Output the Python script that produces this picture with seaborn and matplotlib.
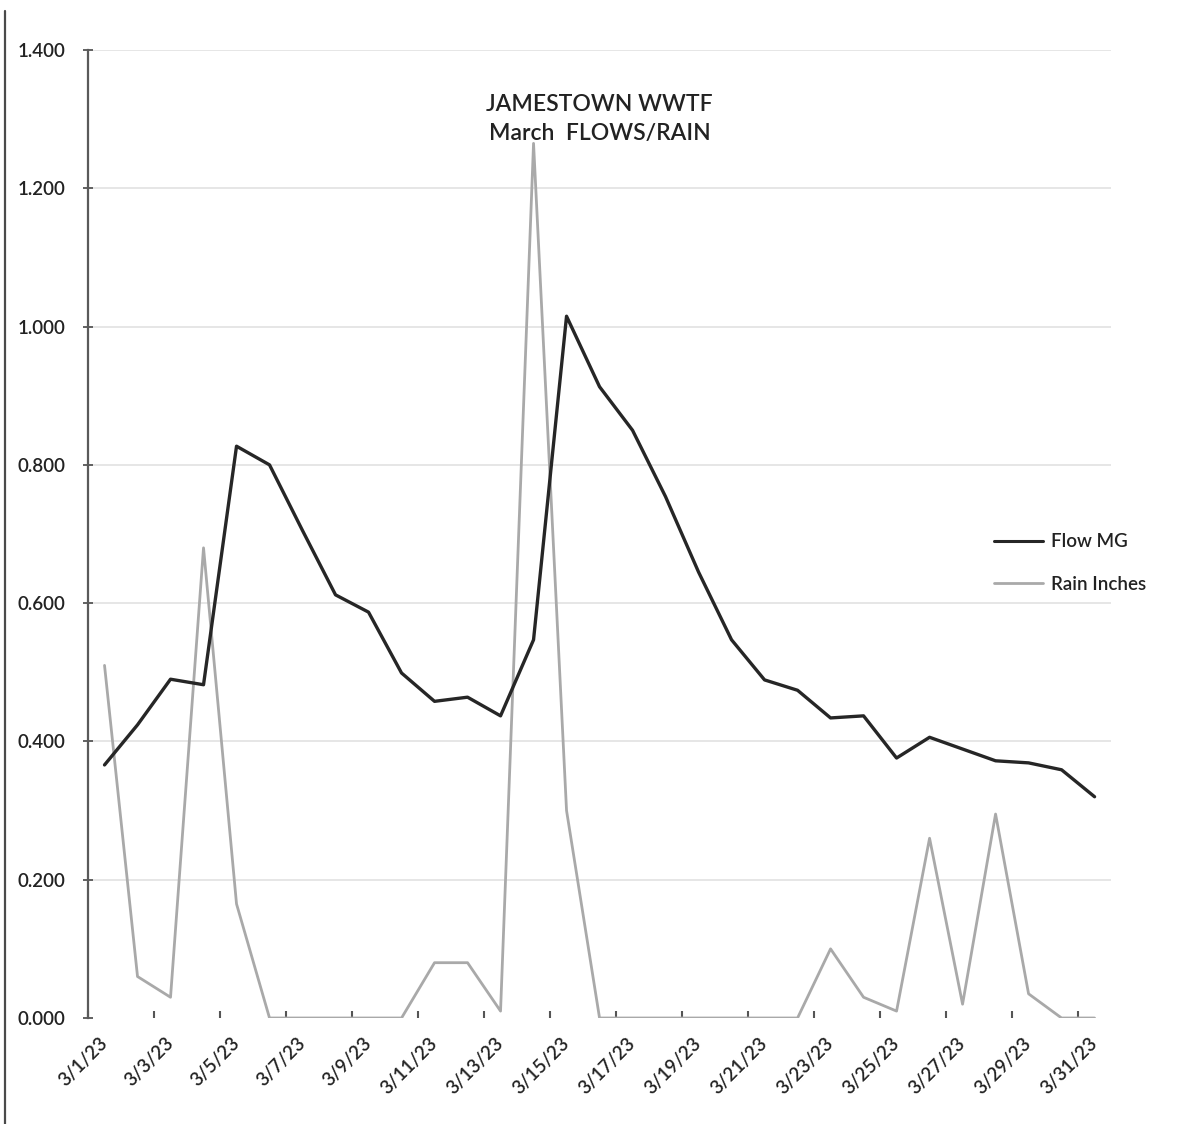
import matplotlib
matplotlib.use("Agg")
import matplotlib.pyplot as plt
from matplotlib.lines import Line2D
import pandas as pd
import seaborn as sns

# Daily readings for March 2023
dates = ["3/1/23", "3/2/23", "3/3/23", "3/4/23", "3/5/23", "3/6/23", "3/7/23", "3/8/23",
         "3/9/23", "3/10/23", "3/11/23", "3/12/23", "3/13/23", "3/14/23", "3/15/23",
         "3/16/23", "3/17/23", "3/18/23", "3/19/23", "3/20/23", "3/21/23", "3/22/23",
         "3/23/23", "3/24/23", "3/25/23", "3/26/23", "3/27/23", "3/28/23", "3/29/23",
         "3/30/23", "3/31/23"]
flow_mg = [0.366, 0.424, 0.490, 0.482, 0.827, 0.800, 0.705, 0.612, 0.587, 0.499,
           0.458, 0.464, 0.437, 0.547, 1.015, 0.913, 0.850, 0.754, 0.645, 0.547,
           0.489, 0.474, 0.434, 0.437, 0.376, 0.406, 0.389, 0.372, 0.369, 0.359, 0.320]
rain_in = [0.51, 0.06, 0.03, 0.68, 0.165, 0.0, 0.0, 0.0, 0.0, 0.0,
           0.08, 0.08, 0.01, 1.265, 0.30, 0.0, 0.0, 0.0, 0.0, 0.0,
           0.0, 0.0, 0.10, 0.03, 0.01, 0.26, 0.02, 0.295, 0.035, 0.0, 0.0]
series_names = ["Flow MG", "Rain Inches"]
y_ticks = [0.0, 0.2, 0.4, 0.6, 0.8, 1.0, 1.2, 1.4]

pos = list(range(len(dates)))
df = pd.DataFrame({
    "pos": pos * 2,
    "value": flow_mg + rain_in,
    "series": [series_names[0]] * len(pos) + [series_names[1]] * len(pos),
})

sns.set_theme(style="white")
plt.rcParams["font.family"] = ["Lato", "DejaVu Sans"]

FLOW_C = "#262626"
RAIN_C = "#a9a9a9"
TEXT_C = "#222222"

fig = plt.figure(figsize=(11.83, 11.24), dpi=100)
ax = fig.add_axes([0.0744, 0.0943, 0.8648, 0.8612])

sns.lineplot(data=df, x="pos", y="value", hue="series", hue_order=series_names,
             palette={series_names[0]: FLOW_C, series_names[1]: RAIN_C},
             ax=ax, legend=False, estimator=None, sort=False)
for ln, lw in zip(ax.lines, [2.4, 2.0]):
    ln.set_linewidth(lw)
# rain drawn beneath flow
ax.lines[1].set_zorder(2)
ax.lines[0].set_zorder(3)

ax.set_xlim(-0.5, len(dates) - 0.5)
ax.set_ylim(0, 1.4)

ax.set_yticks(y_ticks)
ax.set_yticklabels([f"{v:.3f}" for v in y_ticks], fontsize=13.5, color=TEXT_C,
                   fontweight="semibold")
# light horizontal guides, none along the baseline
for v in y_ticks[1:]:
    ax.axhline(v, color="#e4e4e4", linewidth=1.3, zorder=0)

ax.set_xticks(pos[::2])
ax.set_xticklabels(dates[::2], rotation=45, ha="right", va="center",
                   rotation_mode="anchor", fontsize=13.5, color=TEXT_C,
                   fontweight="semibold")
ax.set_xticks([p - 0.5 for p in pos[::2]], minor=True)
ax.tick_params(axis="x", which="major", length=0, pad=16)
ax.tick_params(axis="x", which="minor", length=5, width=1.5, direction="in",
               color="#555555", bottom=True)
ax.tick_params(axis="y", which="major", length=7, width=1.3, direction="inout",
               color="#555555", pad=13, left=True)

for side in ["top", "right", "bottom"]:
    ax.spines[side].set_visible(False)
ax.spines["left"].set_color("#5a5a5a")
ax.spines["left"].set_linewidth(1.6)
ax.set_xlabel("")
ax.set_ylabel("")

ax.text(0.5, 0.929, "JAMESTOWN WWTF\nMarch  FLOWS/RAIN", transform=ax.transAxes,
        ha="center", va="center", fontsize=16.5, color=TEXT_C, linespacing=1.45,
        fontweight="semibold")

handles = [Line2D([], [], color=FLOW_C, lw=2.2), Line2D([], [], color=RAIN_C, lw=2.0)]
fig.legend(handles, series_names, loc="center left", bbox_to_anchor=(0.826, 0.499),
           frameon=False, handlelength=2.6, handletextpad=0.45,
           labelspacing=1.35, labelcolor=TEXT_C, prop={"weight": "semibold", "size": 13.5})

# scanned page edge on the left
fig.add_artist(Line2D([0.0045, 0.0045], [0.0, 0.99], transform=fig.transFigure,
                      color="#4a4a4a", lw=1.6))

fig.savefig("out.png", dpi=100, facecolor="white")
